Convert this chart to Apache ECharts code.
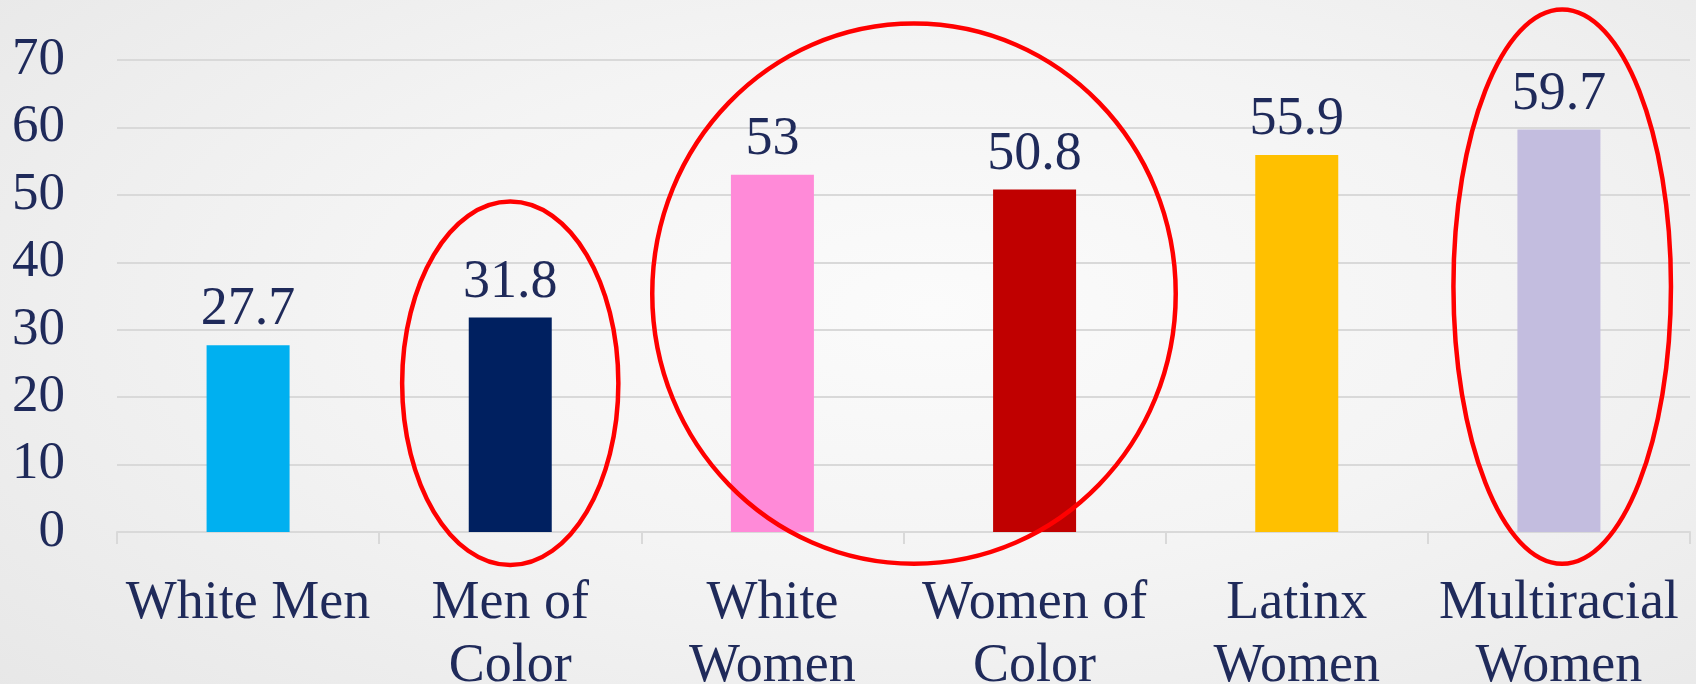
<!DOCTYPE html>
<html>
<head>
<meta charset="utf-8">
<script src="https://cdn.jsdelivr.net/npm/echarts@6/dist/echarts.min.js"></script>
<style>
  html, body { margin: 0; padding: 0; }
  #chart {
    width: 1696px; height: 684px;
    background: radial-gradient(ellipse 75% 85% at 55% 45%, #fbfbfb 0%, #f4f4f4 45%, #e7e7e7 100%);
  }
</style>
</head>
<body>
<div id="chart"></div>
<script>
// Categories and their values
const categories = ['White Men', 'Men of\nColor', 'White\nWomen', 'Women of\nColor', 'Latinx\nWomen', 'Multiracial\nWomen'];
const values = [27.7, 31.8, 53, 50.8, 55.9, 59.7];
const barColors = ['#00B0F0', '#002060', '#FF8AD8', '#C00000', '#FFC000', '#C3BDDF'];
const yTicks = { min: 0, max: 70, step: 10 };

// Highlight rings: category span, horizontal padding in band widths, vertical extent in axis units
const rings = [
  { first: 1, last: 1, padLeft: 0.42, padRight: 0.42, top: 49.3, bottom: -5.2 },
  { first: 2, last: 3, padLeft: 0.466, padRight: 0.546, top: 75.7, bottom: -5.0 },
  { first: 5, last: 5, padLeft: 0.41, padRight: 0.435, top: 77.8, bottom: -5.0 }
];

const textColor = '#1F2A5A';
const font = 'Liberation Serif';

const chart = echarts.init(document.getElementById('chart'), null, { renderer: 'canvas' });

chart.setOption({
  backgroundColor: 'transparent',
  animation: false,
  grid: { left: 117, right: 6, top: 60, bottom: 152, containLabel: false, outerBoundsMode: 'none' },
  xAxis: {
    type: 'category',
    data: categories,
    axisLine: { lineStyle: { color: '#d9d9d9', width: 2 } },
    axisTick: { show: true, length: 12, lineStyle: { color: '#d9d9d9', width: 2 } },
    axisLabel: {
      interval: 0,
      margin: 40,
      color: textColor,
      fontFamily: font,
      fontSize: 54,
      lineHeight: 63
    }
  },
  yAxis: {
    type: 'value',
    min: yTicks.min,
    max: yTicks.max,
    interval: yTicks.step,
    axisLine: { show: false },
    axisTick: { show: false },
    splitLine: { lineStyle: { color: '#d9d9d9', width: 2 } },
    axisLabel: {
      margin: 52,
      color: textColor,
      fontFamily: font,
      fontSize: 53
    }
  },
  series: [{
    type: 'bar',
    barWidth: 83,
    data: values.map((v, i) => ({ value: v, itemStyle: { color: barColors[i] } })),
    label: {
      show: true,
      position: 'top',
      distance: 8,
      color: textColor,
      fontFamily: font,
      fontSize: 54
    }
  }]
});

// Draw the red highlight rings anchored to the axes
function ringGraphics() {
  const p0 = chart.convertToPixel({ gridIndex: 0 }, [0, 0]);
  const p1 = chart.convertToPixel({ gridIndex: 0 }, [1, 0]);
  const band = p1[0] - p0[0];
  return rings.map(r => {
    const xa = chart.convertToPixel({ gridIndex: 0 }, [r.first, 0])[0] - r.padLeft * band;
    const xb = chart.convertToPixel({ gridIndex: 0 }, [r.last, 0])[0] + r.padRight * band;
    const ya = chart.convertToPixel({ gridIndex: 0 }, [r.first, r.top])[1];
    const yb = chart.convertToPixel({ gridIndex: 0 }, [r.first, r.bottom])[1];
    return {
      type: 'ellipse',
      z: 100,
      shape: { cx: (xa + xb) / 2, cy: (ya + yb) / 2, rx: (xb - xa) / 2 - 2, ry: (yb - ya) / 2 - 2 },
      style: { fill: 'none', stroke: '#FF0000', lineWidth: 4.5 }
    };
  });
}
chart.setOption({ graphic: ringGraphics() });
</script>
</body>
</html>
